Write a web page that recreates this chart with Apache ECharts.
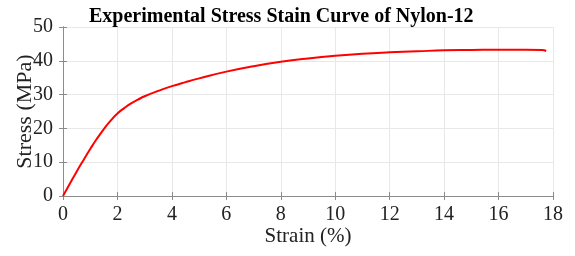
<!DOCTYPE html>
<html>
<head>
<meta charset="utf-8">
<script src="https://cdn.jsdelivr.net/npm/echarts@6/dist/echarts.min.js"></script>
<style>
html,body{margin:0;padding:0;background:#fff;}
#chartDiv{width:575px;height:256px;}
</style>
</head>
<body>
<div id="chartDiv"></div>
<script>
// strain (%) and stress (MPa)
var strainArr = [0, 0.25, 0.5, 0.75, 1.0, 1.25, 1.5, 1.75, 2.0, 2.25, 2.5, 2.75, 3.0, 3.5, 4.0, 4.5, 5.0, 6.0, 7.0, 8.0, 9.0, 10.0, 11.0, 12.0, 13.0, 14.0, 15.0, 16.0, 17.0, 17.6, 17.75];
var stressArr = [0, 3.6, 7.2, 10.6, 13.9, 17.0, 19.8, 22.3, 24.4, 26.0, 27.4, 28.5, 29.5, 31.1, 32.5, 33.7, 34.8, 36.8, 38.4, 39.7, 40.7, 41.5, 42.1, 42.5, 42.8, 43.1, 43.2, 43.3, 43.3, 43.2, 42.9];

var fontName = 'Liberation Serif';
var axisColor = '#8c8c8c';
var gridColor = '#e8e8e8';

var lineData = [];
for (var i = 0; i < strainArr.length; i++) {
	lineData.push([strainArr[i], stressArr[i]]);
}

var myChart = echarts.init(document.getElementById('chartDiv'));
var option = {
	animation: false,
	title: {
		text: 'Experimental Stress Stain Curve of Nylon-12',
		left: 84,
		top: 2,
		textStyle: {fontFamily: fontName, fontWeight: 'bold', fontSize: 20, color: '#000'}
	},
	grid: {left: 63, right: 22, top: 27, bottom: 60, outerBoundsMode: 'none'},
	xAxis: [
		{
			type: 'value', min: 0, max: 18, interval: 2, position: 'bottom',
			name: 'Strain (%)', nameLocation: 'middle', nameGap: 30, nameMoveOverlap: false,
			nameTextStyle: {fontFamily: fontName, fontSize: 21, color: '#222'},
			axisLine: {show: true, lineStyle: {color: axisColor}},
			axisTick: {show: true, inside: true, length: 4, lineStyle: {color: axisColor}},
			axisLabel: {fontFamily: fontName, fontSize: 20, color: '#222', margin: 9},
			splitLine: {show: true, lineStyle: {color: gridColor}}
		},
		{
			type: 'value', min: 0, max: 18, interval: 2, position: 'top',
			axisLine: {show: true, lineStyle: {color: axisColor}},
			axisTick: {show: true, inside: true, length: 4, lineStyle: {color: axisColor}},
			axisLabel: {show: false},
			splitLine: {show: false}
		}
	],
	yAxis: [
		{
			type: 'value', min: 0, max: 50, interval: 10, position: 'left',
			name: 'Stress (MPa)', nameLocation: 'middle', nameGap: 27, nameMoveOverlap: false,
			nameTextStyle: {fontFamily: fontName, fontSize: 22, color: '#222'},
			axisLine: {show: true, lineStyle: {color: axisColor}},
			axisTick: {show: true, inside: true, length: 4, lineStyle: {color: axisColor}},
			axisLabel: {fontFamily: fontName, fontSize: 20, color: '#222', margin: 10},
			splitLine: {show: true, lineStyle: {color: gridColor}}
		},
		{
			type: 'value', min: 0, max: 50, interval: 10, position: 'right',
			axisLine: {show: true, lineStyle: {color: axisColor}},
			axisTick: {show: true, inside: true, length: 4, lineStyle: {color: axisColor}},
			axisLabel: {show: false},
			splitLine: {show: false}
		}
	],
	series: [
		{
			type: 'line',
			xAxisIndex: 0,
			yAxisIndex: 0,
			data: lineData,
			smooth: true,
			showSymbol: false,
			lineStyle: {color: '#ff0000', width: 2}
		}
	]
};
myChart.setOption(option);
</script>
</body>
</html>
